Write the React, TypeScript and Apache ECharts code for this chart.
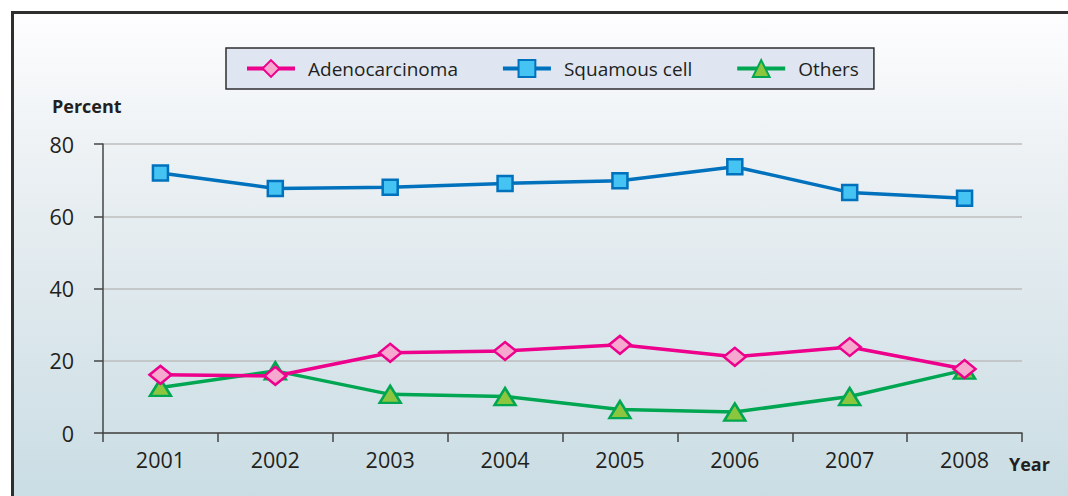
import React, { useEffect, useRef } from "react";
import * as echarts from "echarts";

const years = ["2001", "2002", "2003", "2004", "2005", "2006", "2007", "2008"];
const adenocarcinoma = [16.1, 15.8, 22.2, 22.7, 24.4, 21.1, 23.8, 17.7];
const squamousCell = [72.0, 67.7, 68.0, 69.1, 69.8, 73.7, 66.6, 65.0];
const others = [12.6, 17.2, 10.7, 10.1, 6.5, 5.8, 10.1, 17.4];
const seriesNames = ["Adenocarcinoma", "Squamous cell", "Others"];

const FONT = "'Open Sans', 'Noto Sans', sans-serif";

export default function App() {
  const ref = useRef<HTMLDivElement>(null);
  useEffect(() => {
    document.body.style.margin = "0";
    const chart = echarts.init(ref.current!, null, { renderer: "svg" });
    chart.setOption({
      animation: false,
      backgroundColor: "#ffffff",
      graphic: [
        {
          type: "rect",
          z: -10,
          silent: true,
          shape: { x: 12.5, y: 12.5, width: 1080, height: 520 },
          style: {
            fill: new echarts.graphic.LinearGradient(0, 0, 0, 1, [
              { offset: 0, color: "#fdfdfe" },
              { offset: 0.3, color: "#ebf0f3" },
              { offset: 1, color: "#c6dbe2" },
            ]),
            stroke: "#2e2e2e",
            lineWidth: 3,
          },
        },
        {
          type: "text",
          left: 52,
          top: 97,
          style: { text: "Percent", font: `bold 18px ${FONT}`, fill: "#231f20" },
        },
        {
          type: "text",
          left: 1009,
          top: 455,
          style: { text: "Year", font: `bold 18px ${FONT}`, fill: "#231f20" },
        },
      ],
      legend: {
        data: seriesNames.map((name) => ({ name, lineStyle: { width: 4 } })),
        left: 226,
        top: 48,
        padding: [11, 15, 11, 19],
        itemWidth: 48,
        itemHeight: 21,
        itemGap: 43,
        backgroundColor: "#dfe6f2",
        borderColor: "#2e2e2e",
        borderWidth: 1.5,
        lineStyle: { width: 4 },
        textStyle: { fontFamily: FONT, fontSize: 19, color: "#231f20", padding: [0, 0, 0, 8] },
      },
      grid: { left: 103, right: 46, top: 144, bottom: 63, containLabel: false },
      xAxis: {
        type: "category",
        data: years,
        boundaryGap: true,
        axisLine: { show: true, lineStyle: { color: "#444", width: 1.5 } },
        axisTick: { show: true, length: 9, lineStyle: { color: "#444", width: 1.5 } },
        axisLabel: { fontFamily: FONT, fontSize: 21.5, color: "#231f20", margin: 15 },
      },
      yAxis: {
        type: "value",
        min: 0,
        max: 80,
        interval: 20,
        axisLine: { show: true, lineStyle: { color: "#444", width: 1.5 } },
        axisTick: { show: true, length: 9, lineStyle: { color: "#444", width: 1.5 } },
        axisLabel: { fontFamily: FONT, fontSize: 21.5, color: "#231f20", margin: 29 },
        splitLine: { show: true, lineStyle: { color: "#bcbcbc", width: 1.5 } },
      },
      series: [
        {
          name: "Squamous cell",
          type: "line",
          data: squamousCell,
          symbol: "rect",
          symbolSize: 15,
          lineStyle: { color: "#0071bc", width: 3.5 },
          itemStyle: { color: "#45c4f3", borderColor: "#0071bc", borderWidth: 2.5 },
        },
        {
          name: "Others",
          type: "line",
          data: others,
          symbol: "triangle",
          symbolSize: [21, 17],
          lineStyle: { color: "#00a651", width: 3.5 },
          itemStyle: { color: "#8cc63f", borderColor: "#00a651", borderWidth: 2.5 },
        },
        {
          name: "Adenocarcinoma",
          type: "line",
          data: adenocarcinoma,
          symbol: "diamond",
          symbolSize: [22, 18],
          lineStyle: { color: "#ec008c", width: 3.5 },
          itemStyle: { color: "#f6a8cf", borderColor: "#ec008c", borderWidth: 2.5 },
        },
      ],
    });
    return () => chart.dispose();
  }, []);
  return <div ref={ref} style={{ width: 1068, height: 496 }} />;
}
